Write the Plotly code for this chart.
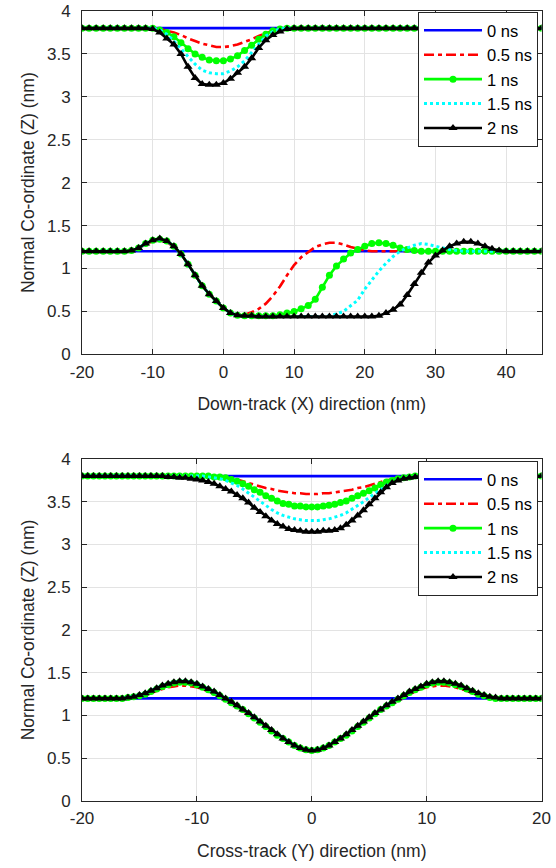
import plotly.graph_objects as go

# ---------- top panel: down-track (X) ----------
x_down = list(range(-20, 46))  # 1 nm samples

# blue reference surfaces (0 ns) are flat
z0_top = 3.8
z0_bot = 1.2

down_upper_05 = [3.80, 3.80, 3.80, 3.80, 3.80, 3.80, 3.80, 3.80, 3.80, 3.80,
                 3.80, 3.79, 3.77, 3.75, 3.72, 3.68, 3.65, 3.62, 3.60, 3.58,
                 3.58, 3.59, 3.61, 3.64, 3.67, 3.71, 3.74, 3.77, 3.79, 3.80,
                 3.80, 3.80, 3.80, 3.80, 3.80, 3.80, 3.80, 3.80, 3.80, 3.80,
                 3.80, 3.80, 3.80, 3.80, 3.80, 3.80, 3.80, 3.80, 3.80, 3.80,
                 3.80, 3.80, 3.80, 3.80, 3.80, 3.80, 3.80, 3.80, 3.80, 3.80,
                 3.80, 3.80, 3.80, 3.80, 3.80, 3.80]
down_upper_1 = [3.80, 3.80, 3.80, 3.80, 3.80, 3.80, 3.80, 3.80, 3.80, 3.80,
                3.80, 3.78, 3.75, 3.70, 3.63, 3.56, 3.50, 3.46, 3.43, 3.42,
                3.42, 3.44, 3.48, 3.54, 3.60, 3.67, 3.73, 3.77, 3.79, 3.80,
                3.80, 3.80, 3.80, 3.80, 3.80, 3.80, 3.80, 3.80, 3.80, 3.80,
                3.80, 3.80, 3.80, 3.80, 3.80, 3.80, 3.80, 3.80, 3.80, 3.80,
                3.80, 3.80, 3.80, 3.80, 3.80, 3.80, 3.80, 3.80, 3.80, 3.80,
                3.80, 3.80, 3.80, 3.80, 3.80, 3.80]
down_upper_15 = [3.80, 3.80, 3.80, 3.80, 3.80, 3.80, 3.80, 3.80, 3.80, 3.80,
                 3.80, 3.78, 3.73, 3.65, 3.56, 3.46, 3.38, 3.31, 3.28, 3.27,
                 3.27, 3.30, 3.35, 3.42, 3.52, 3.62, 3.71, 3.76, 3.79, 3.80,
                 3.80, 3.80, 3.80, 3.80, 3.80, 3.80, 3.80, 3.80, 3.80, 3.80,
                 3.80, 3.80, 3.80, 3.80, 3.80, 3.80, 3.80, 3.80, 3.80, 3.80,
                 3.80, 3.80, 3.80, 3.80, 3.80, 3.80, 3.80, 3.80, 3.80, 3.80,
                 3.80, 3.80, 3.80, 3.80, 3.80, 3.80]
down_upper_2 = [3.80, 3.80, 3.80, 3.80, 3.80, 3.80, 3.80, 3.80, 3.80, 3.80,
                3.79, 3.75, 3.68, 3.61, 3.50, 3.35, 3.22, 3.15, 3.14, 3.14,
                3.16, 3.21, 3.28, 3.35, 3.45, 3.57, 3.66, 3.72, 3.76, 3.79,
                3.80, 3.80, 3.80, 3.80, 3.80, 3.80, 3.80, 3.80, 3.80, 3.80,
                3.80, 3.80, 3.80, 3.80, 3.80, 3.80, 3.80, 3.80, 3.80, 3.80,
                3.80, 3.80, 3.80, 3.80, 3.80, 3.80, 3.80, 3.80, 3.80, 3.80,
                3.80, 3.80, 3.80, 3.80, 3.80, 3.80]

down_lower_05 = [1.20, 1.20, 1.20, 1.20, 1.20, 1.20, 1.20, 1.21, 1.24, 1.28,
                 1.32, 1.33, 1.31, 1.25, 1.17, 1.05, 0.92, 0.80, 0.70, 0.62,
                 0.54, 0.48, 0.46, 0.46, 0.49, 0.53, 0.59, 0.68, 0.79, 0.92,
                 1.04, 1.13, 1.19, 1.25, 1.28, 1.30, 1.30, 1.28, 1.25, 1.23,
                 1.21, 1.20, 1.20, 1.20, 1.20, 1.20, 1.20, 1.20, 1.20, 1.20,
                 1.20, 1.20, 1.20, 1.20, 1.20, 1.20, 1.20, 1.20, 1.20, 1.20,
                 1.20, 1.20, 1.20, 1.20, 1.20, 1.20]
down_lower_1 = [1.20, 1.20, 1.20, 1.20, 1.20, 1.20, 1.20, 1.21, 1.24, 1.29,
                1.33, 1.34, 1.32, 1.26, 1.17, 1.05, 0.92, 0.80, 0.70, 0.62,
                0.54, 0.48, 0.455, 0.45, 0.45, 0.45, 0.45, 0.45, 0.46, 0.48,
                0.50, 0.53, 0.57, 0.64, 0.78, 0.92, 1.03, 1.11, 1.18, 1.22,
                1.26, 1.29, 1.30, 1.29, 1.27, 1.24, 1.22, 1.21, 1.20, 1.20,
                1.20, 1.20, 1.20, 1.20, 1.20, 1.20, 1.20, 1.20, 1.20, 1.20,
                1.20, 1.20, 1.20, 1.20, 1.20, 1.20]
down_lower_15 = [1.20, 1.20, 1.20, 1.20, 1.20, 1.20, 1.20, 1.21, 1.24, 1.29,
                 1.33, 1.34, 1.32, 1.26, 1.17, 1.05, 0.92, 0.80, 0.70, 0.62,
                 0.54, 0.48, 0.455, 0.45, 0.45, 0.44, 0.44, 0.44, 0.44, 0.44,
                 0.44, 0.44, 0.44, 0.44, 0.44, 0.45, 0.47, 0.50, 0.56, 0.63,
                 0.76, 0.87, 0.97, 1.06, 1.14, 1.20, 1.24, 1.27, 1.29, 1.28,
                 1.26, 1.24, 1.22, 1.21, 1.20, 1.20, 1.20, 1.20, 1.20, 1.20,
                 1.20, 1.20, 1.20, 1.20, 1.20, 1.20]
down_lower_2 = [1.20, 1.20, 1.20, 1.20, 1.20, 1.20, 1.20, 1.21, 1.24, 1.29,
                1.33, 1.35, 1.32, 1.26, 1.17, 1.05, 0.92, 0.80, 0.70, 0.62,
                0.54, 0.48, 0.455, 0.45, 0.45, 0.44, 0.44, 0.44, 0.44, 0.44,
                0.44, 0.44, 0.44, 0.44, 0.44, 0.44, 0.44, 0.44, 0.44, 0.44,
                0.44, 0.44, 0.45, 0.48, 0.52, 0.58, 0.69, 0.82, 0.95, 1.07,
                1.15, 1.21, 1.26, 1.29, 1.31, 1.31, 1.29, 1.26, 1.23, 1.21,
                1.20, 1.20, 1.20, 1.20, 1.20, 1.20]

# ---------- bottom panel: cross-track (Y) ----------
x_cross = [i * 0.5 for i in range(-40, 41)]  # 0.5 nm samples

cross_upper_05 = [3.80, 3.80, 3.80, 3.80, 3.80, 3.80, 3.80, 3.80, 3.80, 3.80,
                  3.80, 3.80, 3.80, 3.80, 3.80, 3.80, 3.80, 3.80, 3.80, 3.80,
                  3.80, 3.80, 3.80, 3.80, 3.79, 3.78, 3.77, 3.76, 3.74, 3.72,
                  3.70, 3.68, 3.66, 3.65, 3.63, 3.62, 3.61, 3.60, 3.60, 3.59,
                  3.59, 3.59, 3.60, 3.60, 3.61, 3.62, 3.63, 3.64, 3.66, 3.67,
                  3.69, 3.71, 3.73, 3.75, 3.76, 3.78, 3.79, 3.80, 3.80, 3.80,
                  3.80, 3.80, 3.80, 3.80, 3.80, 3.80, 3.80, 3.80, 3.80, 3.80,
                  3.80, 3.80, 3.80, 3.80, 3.80, 3.80, 3.80, 3.80, 3.80, 3.80,
                  3.80]
cross_upper_1 = [3.80, 3.80, 3.80, 3.80, 3.80, 3.80, 3.80, 3.80, 3.80, 3.80,
                 3.80, 3.80, 3.80, 3.80, 3.80, 3.80, 3.80, 3.80, 3.80, 3.80,
                 3.80, 3.80, 3.80, 3.79, 3.79, 3.78, 3.76, 3.74, 3.71, 3.68,
                 3.64, 3.61, 3.57, 3.54, 3.51, 3.48, 3.47, 3.45, 3.45, 3.44,
                 3.44, 3.44, 3.45, 3.46, 3.47, 3.49, 3.51, 3.54, 3.57, 3.60,
                 3.63, 3.66, 3.70, 3.73, 3.75, 3.77, 3.78, 3.79, 3.80, 3.80,
                 3.80, 3.80, 3.80, 3.80, 3.80, 3.80, 3.80, 3.80, 3.80, 3.80,
                 3.80, 3.80, 3.80, 3.80, 3.80, 3.80, 3.80, 3.80, 3.80, 3.80,
                 3.80]
cross_upper_15 = [3.80, 3.80, 3.80, 3.80, 3.80, 3.80, 3.80, 3.80, 3.80, 3.80,
                  3.80, 3.80, 3.80, 3.80, 3.80, 3.80, 3.80, 3.80, 3.80, 3.80,
                  3.80, 3.80, 3.79, 3.78, 3.77, 3.75, 3.72, 3.69, 3.65, 3.60,
                  3.55, 3.50, 3.45, 3.41, 3.37, 3.34, 3.32, 3.30, 3.29, 3.28,
                  3.28, 3.28, 3.29, 3.30, 3.32, 3.34, 3.37, 3.41, 3.45, 3.50,
                  3.55, 3.60, 3.65, 3.69, 3.73, 3.76, 3.78, 3.79, 3.80, 3.80,
                  3.80, 3.80, 3.80, 3.80, 3.80, 3.80, 3.80, 3.80, 3.80, 3.80,
                  3.80, 3.80, 3.80, 3.80, 3.80, 3.80, 3.80, 3.80, 3.80, 3.80,
                  3.80]
cross_upper_2 = [3.80, 3.80, 3.80, 3.80, 3.80, 3.80, 3.80, 3.80, 3.80, 3.80,
                 3.80, 3.80, 3.80, 3.80, 3.80, 3.79, 3.79, 3.78, 3.78, 3.77,
                 3.76, 3.75, 3.73, 3.71, 3.68, 3.65, 3.62, 3.58, 3.54, 3.49,
                 3.43, 3.38, 3.33, 3.28, 3.24, 3.21, 3.18, 3.17, 3.16, 3.15,
                 3.15, 3.15, 3.16, 3.16, 3.17, 3.19, 3.23, 3.28, 3.34, 3.40,
                 3.47, 3.54, 3.61, 3.67, 3.72, 3.75, 3.77, 3.78, 3.79, 3.80,
                 3.80, 3.80, 3.80, 3.80, 3.80, 3.80, 3.80, 3.80, 3.80, 3.80,
                 3.80, 3.80, 3.80, 3.80, 3.80, 3.80, 3.80, 3.80, 3.80, 3.80,
                 3.80]

cross_lower_05 = [1.20, 1.20, 1.20, 1.20, 1.20, 1.20, 1.20, 1.20, 1.20, 1.21,
                  1.22, 1.24, 1.26, 1.29, 1.31, 1.33, 1.34, 1.35, 1.35, 1.34,
                  1.33, 1.31, 1.28, 1.25, 1.22, 1.18, 1.14, 1.10, 1.06, 1.01,
                  0.97, 0.92, 0.87, 0.82, 0.77, 0.72, 0.68, 0.64, 0.61, 0.59,
                  0.58, 0.59, 0.61, 0.64, 0.68, 0.72, 0.77, 0.82, 0.87, 0.92,
                  0.97, 1.01, 1.06, 1.10, 1.14, 1.18, 1.22, 1.25, 1.28, 1.31,
                  1.33, 1.34, 1.35, 1.35, 1.34, 1.33, 1.31, 1.29, 1.26, 1.24,
                  1.22, 1.21, 1.20, 1.20, 1.20, 1.20, 1.20, 1.20, 1.20, 1.20,
                  1.20]
cross_lower_1 = [1.20, 1.20, 1.20, 1.20, 1.20, 1.20, 1.20, 1.20, 1.21, 1.22,
                 1.23, 1.25, 1.28, 1.31, 1.34, 1.36, 1.38, 1.39, 1.39, 1.38,
                 1.36, 1.33, 1.30, 1.27, 1.23, 1.19, 1.15, 1.11, 1.07, 1.02,
                 0.97, 0.92, 0.87, 0.82, 0.77, 0.73, 0.69, 0.65, 0.62, 0.60,
                 0.59, 0.60, 0.62, 0.65, 0.69, 0.73, 0.77, 0.82, 0.87, 0.92,
                 0.97, 1.02, 1.07, 1.11, 1.15, 1.19, 1.23, 1.27, 1.30, 1.33,
                 1.36, 1.38, 1.39, 1.39, 1.38, 1.36, 1.34, 1.31, 1.28, 1.25,
                 1.23, 1.21, 1.20, 1.20, 1.20, 1.20, 1.20, 1.20, 1.20, 1.20,
                 1.20]
cross_lower_15 = [1.20, 1.20, 1.20, 1.20, 1.20, 1.20, 1.20, 1.20, 1.21, 1.22,
                  1.24, 1.26, 1.29, 1.32, 1.35, 1.37, 1.39, 1.40, 1.40, 1.39,
                  1.37, 1.34, 1.31, 1.28, 1.24, 1.20, 1.16, 1.12, 1.07, 1.03,
                  0.98, 0.93, 0.88, 0.83, 0.78, 0.73, 0.69, 0.65, 0.62, 0.60,
                  0.59, 0.60, 0.62, 0.65, 0.69, 0.73, 0.78, 0.83, 0.88, 0.93,
                  0.98, 1.03, 1.07, 1.12, 1.16, 1.20, 1.24, 1.28, 1.31, 1.34,
                  1.37, 1.39, 1.40, 1.40, 1.39, 1.37, 1.35, 1.32, 1.29, 1.26,
                  1.24, 1.22, 1.21, 1.20, 1.20, 1.20, 1.20, 1.20, 1.20, 1.20,
                  1.20]
cross_lower_2 = [1.20, 1.20, 1.20, 1.20, 1.20, 1.20, 1.20, 1.20, 1.21, 1.22,
                 1.24, 1.26, 1.29, 1.32, 1.35, 1.37, 1.39, 1.40, 1.40, 1.39,
                 1.37, 1.34, 1.31, 1.28, 1.24, 1.20, 1.16, 1.12, 1.07, 1.03,
                 0.98, 0.93, 0.88, 0.83, 0.78, 0.73, 0.69, 0.65, 0.62, 0.60,
                 0.59, 0.60, 0.62, 0.65, 0.69, 0.73, 0.78, 0.83, 0.88, 0.93,
                 0.98, 1.03, 1.07, 1.12, 1.16, 1.20, 1.24, 1.28, 1.31, 1.34,
                 1.37, 1.39, 1.40, 1.40, 1.39, 1.37, 1.35, 1.32, 1.29, 1.26,
                 1.24, 1.22, 1.21, 1.20, 1.20, 1.20, 1.20, 1.20, 1.20, 1.20,
                 1.20]

names = ["0 ns", "0.5 ns", "1 ns", "1.5 ns", "2 ns"]

FONT = "Liberation Sans, Arial, Helvetica, sans-serif"
AX = "#262626"
W, H = 556, 868

styles = [
    dict(mode="lines", line=dict(color="#0000ff", width=2.6)),
    dict(mode="lines", line=dict(color="#ff0000", width=2.6, dash="10px,4px,4px,4px")),
    dict(mode="lines+markers", line=dict(color="#00ff00", width=2.6),
         marker=dict(symbol="circle", size=7, color="#00ff00")),
    dict(mode="lines", line=dict(color="#00ffff", width=3, dash="3px,3px")),
    dict(mode="lines+markers", line=dict(color="#000000", width=2.6),
         marker=dict(symbol="triangle-up", size=8, color="#000000")),
]

fig = go.Figure()


def add_panel(xs, uppers, lowers, xa, ya, leg):
    # blue 0 ns: two flat surfaces
    bx = [xs[0], xs[-1], None, xs[0], xs[-1]]
    by = [z0_top, z0_top, None, z0_bot, z0_bot]
    fig.add_trace(go.Scatter(x=bx, y=by, name=names[0], xaxis=xa, yaxis=ya,
                             legend=leg, **styles[0]))
    for i in range(4):
        fig.add_trace(go.Scatter(x=xs + [None] + xs, y=uppers[i] + [None] + lowers[i],
                                 name=names[i + 1], xaxis=xa, yaxis=ya, legend=leg,
                                 **styles[i + 1]))


add_panel(x_down, [down_upper_05, down_upper_1, down_upper_15, down_upper_2],
          [down_lower_05, down_lower_1, down_lower_15, down_lower_2], "x", "y", "legend")
add_panel(x_cross, [cross_upper_05, cross_upper_1, cross_upper_15, cross_upper_2],
          [cross_lower_05, cross_lower_1, cross_lower_15, cross_lower_2], "x2", "y2", "legend2")

xdom = [82 / W, 541.5 / W]
common = dict(showline=True, mirror="ticks", linecolor=AX, linewidth=1, ticks="inside",
              ticklen=5, tickcolor=AX, tickwidth=1, showgrid=True, gridcolor="#e3e3e3",
              gridwidth=1, zeroline=False, tickfont=dict(family=FONT, size=17, color=AX),
              automargin=False)
ytick = [0, 0.5, 1, 1.5, 2, 2.5, 3, 3.5, 4]
ytext = ["0", "0.5", "1", "1.5", "2", "2.5", "3", "3.5", "4"]
tfont = dict(family=FONT, size=17.5, color=AX)
lfont = dict(family=FONT, size=16.5, color="#000000")

fig.update_layout(
    width=W, height=H, margin=dict(l=0, r=0, t=0, b=0),
    paper_bgcolor="white", plot_bgcolor="white",
    font=dict(family=FONT, size=17, color=AX),
    xaxis=dict(domain=xdom, anchor="y", range=[-20, 45],
               tickvals=[-20, -10, 0, 10, 20, 30, 40],
               ticktext=["-20", "-10", "0", "10", "20", "30", "40"],
               ticklabelstandoff=2,
               title=dict(text="Down-track (X) direction (nm)", standoff=17, font=tfont),
               **common),
    yaxis=dict(domain=[1 - 354.3 / H, 1 - 11 / H], anchor="x", range=[0, 4],
               tickvals=ytick, ticktext=ytext, ticklabelstandoff=7,
               title=dict(text="Normal Co-ordinate (Z) (nm)", standoff=7, font=tfont),
               **common),
    xaxis2=dict(domain=xdom, anchor="y2", range=[-20, 20],
                tickvals=[-20, -10, 0, 10, 20],
                ticktext=["-20", "-10", "0", "10", "20"],
                ticklabelstandoff=2,
                title=dict(text="Cross-track (Y) direction (nm)", standoff=17, font=tfont),
                **common),
    yaxis2=dict(domain=[1 - 801 / H, 1 - 459 / H], anchor="x2", range=[0, 4],
                tickvals=ytick, ticktext=ytext, ticklabelstandoff=7,
                title=dict(text="Normal Co-ordinate (Z) (nm)", standoff=7, font=tfont),
                **common),
    legend=dict(x=538 / W, xanchor="right", y=1 - 12 / H, yanchor="top",
                bgcolor="white", bordercolor=AX, borderwidth=1, itemwidth=58,
                font=lfont, tracegroupgap=0),
    legend2=dict(x=538 / W, xanchor="right", y=1 - 461 / H, yanchor="top",
                 bgcolor="white", bordercolor=AX, borderwidth=1, itemwidth=58,
                 font=lfont, tracegroupgap=0),
    showlegend=True,
)

# page body margin would shift the figure by 8 px
fig.write_html("out.html", config={"displayModeBar": False},
               post_script="document.body.style.margin='0';"
                           "document.body.style.overflow='hidden';")
